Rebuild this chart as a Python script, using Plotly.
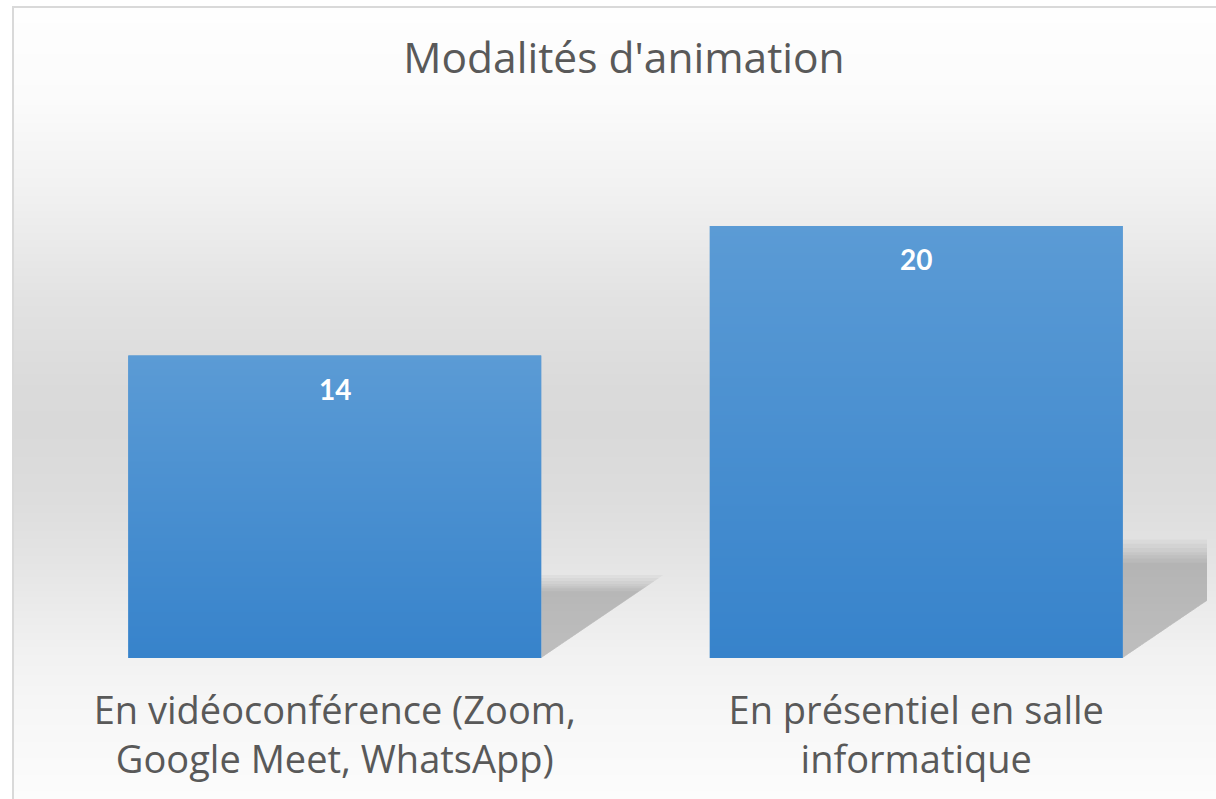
import base64, struct, zlib
import plotly.graph_objects as go

# ---- data ----
categories = ["En vidéoconférence (Zoom, Google Meet, WhatsApp)",
              "En présentiel en salle informatique"]
tick_labels = ["En vidéoconférence (Zoom,<br>Google Meet, WhatsApp)",
               "En présentiel en salle<br>informatique"]
values = [14, 20]
title_text = "Modalités d'animation"

# ---- layout constants (page pixels; body margin removed by post_script) ----
W, H = 1216, 799
ML, MR, MT, MB = 44, 9, 118, 141
PW, PH = W - ML - MR, H - MT - MB
BAR_W = 0.71
TXT = "#595959"


def png_gradient(stops, height, width=4):
    rows = []
    for y in range(height):
        c = stops[-1][1] if y > stops[-1][0] else stops[0][1]
        for i in range(len(stops) - 1):
            y0, c0 = stops[i]
            y1, c1 = stops[i + 1]
            if y0 <= y <= y1:
                t = (y - y0) / max(1, (y1 - y0))
                c = tuple(int(round(a + (b - a) * t)) for a, b in zip(c0, c1))
                break
        rows.append(b"\x00" + bytes(c) * width)
    raw = b"".join(rows)

    def chunk(tag, data):
        return (struct.pack(">I", len(data)) + tag + data +
                struct.pack(">I", zlib.crc32(tag + data) & 0xffffffff))
    png = b"\x89PNG\r\n\x1a\n"
    png += chunk(b"IHDR", struct.pack(">IIBBBBB", width, height, 8, 2, 0, 0, 0))
    png += chunk(b"IDAT", zlib.compress(raw, 9))
    png += chunk(b"IEND", b"")
    return "data:image/png;base64," + base64.b64encode(png).decode()


def g(v):
    return (v, v, v)


# chart area in page pixels
CX0, CY0, CX1, CY1 = 13, 7, W, H
grad_page = [(7, 254), (100, 251), (200, 240), (300, 226), (390, 218), (430, 217),
             (500, 221), (560, 228), (600, 234), (650, 241), (700, 246), (799, 252)]
grad_stops = [(y - CY0, g(c)) for y, c in grad_page]
bg_src = png_gradient(grad_stops, CY1 - CY0)
bar_src = png_gradient([(0, (91, 155, 213)), (199, (55, 131, 203))], 200)


def px_to_paper_x(px):
    return (px - ML) / PW


def px_to_paper_y(py):
    return (H - MB - py) / PH


fig = go.Figure()
fig.add_trace(go.Bar(
    x=categories, y=values, width=BAR_W,
    marker=dict(color="#4990D0", line=dict(width=0)),
    hoverinfo="x+y",
))

shapes = []
shapes.append(dict(type="rect", xref="paper", yref="paper", layer="below",
                   x0=px_to_paper_x(CX0), x1=px_to_paper_x(CX1 + 20),
                   y0=px_to_paper_y(CY1 + 20), y1=px_to_paper_y(CY0),
                   line=dict(color="#d9d9d9", width=2), fillcolor="rgba(0,0,0,0)"))

# soft perspective shadows derived from the bar values
for i, v in enumerate(values):
    R = i + BAR_W / 2
    for grow in [1.12, 1.08, 1.04, 1.0, 0.97, 0.94, 0.9]:
        h = 0.245 * v * grow
        dx = 0.0134 * v * grow
        path = f"M {R},0 L {R},{h:.3f} L {R + dx:.3f},{h:.3f} Z"
        shapes.append(dict(type="path", xref="x", yref="y", layer="below",
                           path=path, fillcolor="rgba(0,0,0,0.032)",
                           line=dict(width=0)))

images = [dict(source=bg_src, xref="paper", yref="paper",
               x=px_to_paper_x(CX0), y=px_to_paper_y(CY0),
               sizex=px_to_paper_x(CX1) - px_to_paper_x(CX0),
               sizey=px_to_paper_y(CY0) - px_to_paper_y(CY1),
               xanchor="left", yanchor="top", sizing="stretch", layer="below")]
# gradient fill for each bar, placed through the axes from the bar values
for i, v in enumerate(values):
    images.append(dict(source=bar_src, xref="x", yref="y",
                       x=i - BAR_W / 2, y=v, sizex=BAR_W, sizey=v,
                       xanchor="left", yanchor="top", sizing="stretch",
                       layer="above"))

annotations = []
for c, v in zip(categories, values):
    annotations.append(dict(x=c, y=v, xref="x", yref="y", text=f"<b>{v}</b>",
                            showarrow=False, yanchor="middle", yshift=-33,
                            font=dict(family="Lato", size=28, color="white")))

fig.update_layout(
    width=W, height=H,
    margin=dict(l=ML, r=MR, t=MT, b=MB, pad=0),
    paper_bgcolor="white",
    plot_bgcolor="rgba(0,0,0,0)",
    title=dict(text=title_text, x=624 / W, xanchor="center", xref="container",
               y=1 - 58 / H, yanchor="middle", yref="container",
               font=dict(family="Open Sans", size=42.5, color=TXT)),
    images=images,
    shapes=shapes,
    annotations=annotations,
    showlegend=False,
    bargap=0.29,
    xaxis=dict(type="category", tickvals=categories, ticktext=tick_labels,
               range=[-0.5, 1.5], showgrid=False, zeroline=False, showline=False,
               ticks="", ticklabelstandoff=27,
               tickfont=dict(family="Open Sans", size=38, color=TXT)),
    yaxis=dict(range=[0, 25], visible=False, showgrid=False, zeroline=False),
)

fig.write_html("out.html",
               config={"displayModeBar": False},
               post_script="document.body.style.margin='0';"
                           "document.body.style.overflow='hidden';")
